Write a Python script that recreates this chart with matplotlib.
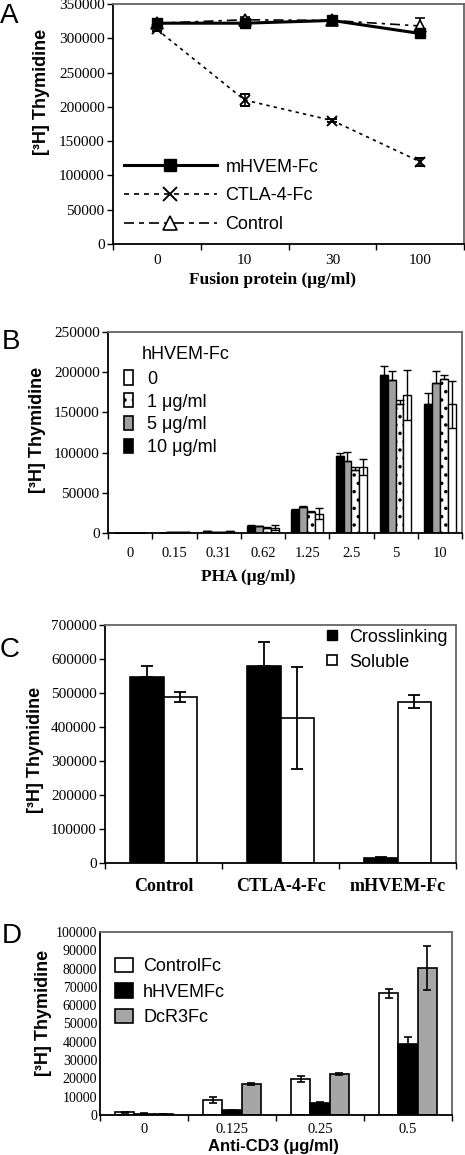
import numpy as np
import matplotlib
matplotlib.use("Agg")
import matplotlib.pyplot as plt
from matplotlib.lines import Line2D
from matplotlib.patches import Patch

# ---------------- DATA ----------------
# Panel A
a_cats = ["0", "10", "30", "100"]
a_mhvem = [322000, 322000, 326000, 307000]
a_mhvem_err = [3000, 5000, 3000, 6000]
a_ctla = [313000, 210000, 180000, 120000]
a_ctla_err = [2000, 9000, 2000, 6000]
a_control = [322000, 327000, 326000, 318000]
a_control_err = [2000, 4000, 2000, 12000]

# Panel B
b_cats = ["0", "0.15", "0.31", "0.62", "1.25", "2.5", "5", "10"]
b_10 = [300, 500, 2000, 9000, 28600, 96000, 196000, 160000]
b_10_err = [0, 0, 300, 1000, 1500, 4000, 12000, 14000]
b_5 = [300, 800, 1500, 8500, 32000, 90000, 190000, 187000]
b_5_err = [0, 0, 300, 800, 1500, 11000, 12000, 15000]
b_1 = [300, 700, 1200, 6500, 26000, 78000, 160000, 192000]
b_1_err = [0, 0, 300, 1000, 1000, 4000, 5000, 5000]
b_0 = [300, 1500, 2000, 6800, 24000, 82000, 172000, 160000]
b_0_err = [0, 300, 300, 3500, 7000, 10000, 31000, 29000]

# Panel C
c_cats = ["Control", "CTLA-4-Fc", "mHVEM-Fc"]
c_cross = [548000, 580000, 15000]
c_cross_err = [31000, 69000, 1500]
c_sol = [488000, 427000, 475000]
c_sol_err = [15000, 150000, 20000]

# Panel D
d_cats = ["0", "0.125", "0.25", "0.5"]
d_ctrl = [1500, 8200, 19800, 66500]
d_ctrl_err = [300, 1700, 1600, 2500]
d_hvem = [700, 2700, 6400, 38600]
d_hvem_err = [200, 300, 500, 4000]
d_dcr3 = [600, 17000, 22500, 80500]
d_dcr3_err = [200, 700, 700, 12000]

# ---------------- STYLE ----------------
W, H = 465, 1155
SANS = "Liberation Sans"
SERIF = "Liberation Serif"
plt.rcParams["font.family"] = [SANS, "DejaVu Sans"]
plt.rcParams["hatch.linewidth"] = 1.3

fig = plt.figure(figsize=(W / 100, H / 100), dpi=100)


def add_ax(l, t, r, b):
    return fig.add_axes([l / W, 1 - b / H, (r - l) / W, (b - t) / H])


def ftext(x, y, s, **kw):
    fig.text(x / W, 1 - y / H, s, **kw)


def style_axes(ax, n, ylim, yticks, tick_pad_x=6, ytick_len=4, yfs=11):
    ax.set_xlim(-0.5, n - 0.5)
    ax.set_ylim(*ylim)
    ax.set_yticks(yticks)
    ax.set_yticklabels([str(v) for v in yticks], fontfamily=SERIF, fontsize=yfs)
    ax.tick_params(axis="y", direction="out", length=ytick_len, width=1, pad=2)
    ax.set_xticks(np.arange(-0.5, n, 1.0), minor=True)
    ax.tick_params(axis="x", which="minor", direction="out", length=4, width=1)
    ax.tick_params(axis="x", which="major", length=0, pad=tick_pad_x)
    for s in ["left", "bottom"]:
        ax.spines[s].set_linewidth(1.3)
        ax.spines[s].set_color("black")
    for s in ["top", "right"]:
        ax.spines[s].set_linewidth(1.3)
        ax.spines[s].set_color("#666666")


# ---------------- PANEL A ----------------
axA = add_ax(113, 4, 464, 244)
xa = np.arange(len(a_cats))
ekw = dict(ecolor="black", elinewidth=1.2, capsize=3.5, capthick=1.2)
axA.errorbar(xa, a_control, yerr=a_control_err, color="black", lw=1.2,
             linestyle=(0, (6, 3, 2, 3)), marker="^", ms=8, mfc="white",
             mec="black", mew=1.2, label="Control", zorder=3, **ekw)
axA.errorbar(xa, a_ctla, yerr=a_ctla_err, color="black", lw=1.2,
             linestyle=(0, (2, 2.5)), marker="x", ms=7, mew=1.4,
             label="CTLA-4-Fc", zorder=3, **ekw)
axA.errorbar(xa, a_mhvem, yerr=a_mhvem_err, color="black", lw=2.2,
             linestyle="-", marker="s", ms=7, mfc="black", mec="black",
             label="mHVEM-Fc", zorder=4, **ekw)
style_axes(axA, len(a_cats), (0, 350000), np.arange(0, 350001, 50000), tick_pad_x=7)
axA.set_xticks(xa)
axA.set_xticklabels(a_cats, fontfamily=SERIF, fontsize=11)
hA = [Line2D([], [], color="black", lw=2.2, ls="-", marker="s", ms=9, mfc="black"),
      Line2D([], [], color="black", lw=1.2, ls=(0, (3, 3)), marker="x", ms=10, mew=1.4),
      Line2D([], [], color="black", lw=1.2, ls=(0, (6, 3, 3, 3)), marker="^", ms=10,
             mfc="white", mew=1.2)]
axA.legend(hA, ["mHVEM-Fc", "CTLA-4-Fc", "Control"], loc="lower left",
           bbox_to_anchor=(0.03, 0.045), frameon=False, fontsize=13,
           handlelength=5.2, handletextpad=0.45, labelspacing=0.65,
           borderpad=0, borderaxespad=0)
ftext(272, 280, "Fusion protein (\u03bcg/ml)", ha="center", va="center",
      fontfamily=SERIF, fontweight="bold", fontsize=12.5)
ftext(42, 92, "[\u00b3H] Thymidine", ha="center", va="center", rotation=90,
      fontfamily=SANS, fontweight="bold", fontsize=13)
ftext(0, 23, "A", ha="left", va="baseline", fontsize=20, fontfamily=SANS)

# ---------------- PANEL B ----------------
axB = add_ax(108, 332, 462, 533)
xb = np.arange(len(b_cats))
bw = 0.177
bekw = dict(ecolor="black", elinewidth=1.0, capsize=2.8, capthick=1.0)
series_b = [
    (b_10, b_10_err, dict(color="black"), False),
    (b_5, b_5_err, dict(color="#a0a0a0"), False),
    (b_1, b_1_err, dict(color="white", hatch=".."), False),
    (b_0, b_0_err, dict(color="white"), True),
]
for i, (vals, errs, st, sym) in enumerate(series_b):
    pos = xb + (i - 1.5) * bw
    low = errs if sym else [0] * len(errs)
    axB.bar(pos, vals, bw, edgecolor="black", linewidth=1.0, zorder=2, **st)
    axB.errorbar(pos, vals, yerr=[low, errs], fmt="none", zorder=3, **bekw)
style_axes(axB, len(b_cats), (0, 250000), np.arange(0, 250001, 50000), tick_pad_x=10)
axB.set_xticks(xb)
axB.set_xticklabels(b_cats, fontfamily=SERIF, fontsize=10.5)
hB = [Patch(facecolor="white", edgecolor="black", lw=1.2),
      Patch(facecolor="white", edgecolor="black", lw=1.2, hatch=".."),
      Patch(facecolor="#a0a0a0", edgecolor="black", lw=1.2),
      Patch(facecolor="black", edgecolor="black", lw=1.2)]
axB.legend(hB, ["0", "1 \u03bcg/ml", "5 \u03bcg/ml", "10 \u03bcg/ml"],
           loc="upper left", bbox_to_anchor=(0.045, 0.81), frameon=False,
           fontsize=13, handlelength=0.5, handleheight=0.85, handletextpad=0.8,
           labelspacing=0.3, borderpad=0, borderaxespad=0)
axB.text(0.096, 0.886, "hHVEM-Fc", transform=axB.transAxes, ha="left",
         va="center", fontsize=13, fontfamily=SANS)
ftext(248, 577, "PHA (\u03bcg/ml)", ha="center", va="center",
      fontfamily=SERIF, fontweight="bold", fontsize=12.5)
ftext(38, 430, "[\u00b3H] Thymidine", ha="center", va="center", rotation=90,
      fontfamily=SANS, fontweight="bold", fontsize=13)
ftext(2, 349, "B", ha="left", va="baseline", fontsize=20, fontfamily=SANS)

# ---------------- PANEL C ----------------
axC = add_ax(105, 625, 456, 863)
xc = np.arange(len(c_cats))
cw = 0.29
cekw = dict(ecolor="black", elinewidth=1.3, capsize=4, capthick=1.3)
axC.bar(xc - cw / 2, c_cross, cw, color="black", edgecolor="black", lw=1.2, zorder=2)
axC.errorbar(xc - cw / 2, c_cross, yerr=[[0] * 3, c_cross_err], fmt="none", zorder=3, **cekw)
axC.bar(xc + cw / 2, c_sol, cw, color="white", edgecolor="black", lw=1.2, zorder=2)
axC.errorbar(xc + cw / 2, c_sol, yerr=c_sol_err, fmt="none", zorder=3, **cekw)
style_axes(axC, len(c_cats), (0, 700000), np.arange(0, 700001, 100000), tick_pad_x=11)
axC.set_xticks(xc)
axC.set_xticklabels(c_cats, fontfamily=SERIF, fontweight="bold", fontsize=13)
hC = [Line2D([], [], ls="none", marker="s", ms=7, mfc="black", mec="black"),
      Line2D([], [], ls="none", marker="s", ms=7, mfc="white", mec="black", mew=1.2)]
axC.legend(hC, ["Crosslinking", "Soluble"], loc="upper right",
           bbox_to_anchor=(0.975, 0.985), frameon=False, fontsize=13,
           handlelength=0.8, handletextpad=0.5, labelspacing=0.45,
           borderpad=0, borderaxespad=0)
ftext(36, 750, "[\u00b3H] Thymidine", ha="center", va="center", rotation=90,
      fontfamily=SANS, fontweight="bold", fontsize=13)
ftext(0, 657, "C", ha="left", va="baseline", fontsize=20, fontfamily=SANS)

# ---------------- PANEL D ----------------
axD = add_ax(100, 932, 452, 1115)
xd = np.arange(len(d_cats))
dw = 0.22
dekw = dict(ecolor="black", elinewidth=1.2, capsize=3, capthick=1.2)
for i, (vals, errs, col) in enumerate([(d_ctrl, d_ctrl_err, "white"),
                                        (d_hvem, d_hvem_err, "black"),
                                        (d_dcr3, d_dcr3_err, "#a6a6a6")]):
    pos = xd + (i - 1) * dw
    axD.bar(pos, vals, dw, color=col, edgecolor="black", lw=1.2, zorder=2)
    axD.errorbar(pos, vals, yerr=errs, fmt="none", zorder=3, **dekw)
style_axes(axD, len(d_cats), (0, 100000), np.arange(0, 100001, 10000),
           tick_pad_x=6, ytick_len=0, yfs=10)
axD.set_xticks(xd)
axD.set_xticklabels(d_cats, fontfamily=SERIF, fontsize=10.5)
hD = [Patch(facecolor="white", edgecolor="black", lw=1.2),
      Patch(facecolor="black", edgecolor="black", lw=1.2),
      Patch(facecolor="#a6a6a6", edgecolor="black", lw=1.2)]
axD.legend(hD, ["ControlFc", "hHVEMFc", "DcR3Fc"], loc="upper left",
           bbox_to_anchor=(0.043, 0.86), frameon=False, fontsize=13,
           handlelength=1.0, handleheight=0.85, handletextpad=0.55,
           labelspacing=0.45, borderpad=0, borderaxespad=0)
ftext(273, 1146, "Anti-CD3 (\u03bcg/ml)", ha="center", va="center",
      fontfamily=SANS, fontweight="bold", fontsize=12)
ftext(43, 1013, "[\u00b3H] Thymidine", ha="center", va="center", rotation=90,
      fontfamily=SANS, fontweight="bold", fontsize=13)
ftext(2, 943, "D", ha="left", va="baseline", fontsize=20, fontfamily=SANS)

fig.savefig("out.png", dpi=100)
